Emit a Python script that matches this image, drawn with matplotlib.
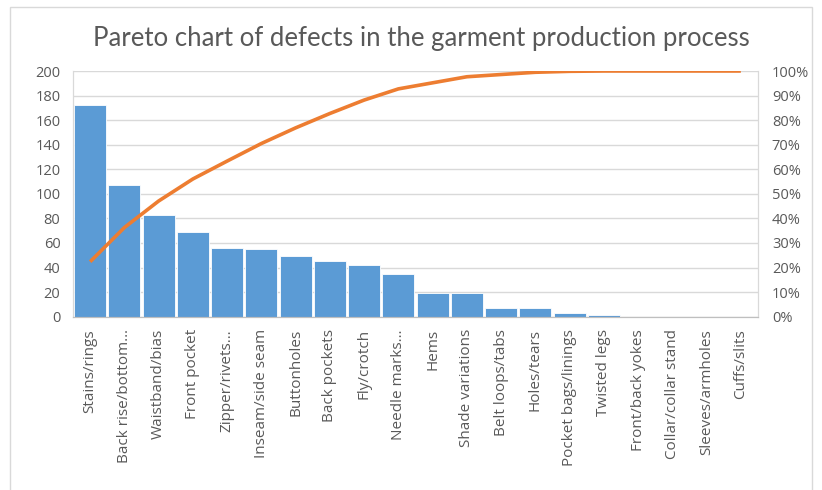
import numpy as np
import matplotlib.pyplot as plt
from matplotlib.ticker import PercentFormatter, MultipleLocator
from matplotlib.patches import Rectangle

# Defect categories, already sorted from most to least frequent
defeitos = ['Stains/rings', 'Back rise/bottom…', 'Waistband/bias', 'Front pocket',
            'Zipper/rivets…', 'Inseam/side seam', 'Buttonholes', 'Back pockets',
            'Fly/crotch', 'Needle marks…', 'Hems', 'Shade variations',
            'Belt loops/tabs', 'Holes/tears', 'Pocket bags/linings', 'Twisted legs',
            'Front/back yokes', 'Collar/collar stand', 'Sleeves/armholes', 'Cuffs/slits']
contagem = [172, 107, 83, 69, 56, 55, 49, 45, 42, 35, 19, 19, 7, 7, 3, 1, 0, 0, 0, 0]

titulo = 'Pareto chart of defects in the garment production process'

# Cumulative share of defects for the pareto line
contagem = np.array(contagem)
acumulado = np.cumsum(contagem) / contagem.sum()

azul = '#5B9BD5'
laranja = '#ED7D31'
cinza_texto = '#595959'
cinza_grade = '#D9D9D9'

plt.rcParams['font.family'] = ['Open Sans', 'DejaVu Sans']

fig = plt.figure(figsize=(8.22, 4.9), dpi=100)
ax = fig.add_axes([0.0888, 0.3537, 0.8333, 0.5014])
ax2 = ax.twinx()

x = np.arange(len(defeitos))
ax.bar(x, contagem, width=0.94, color=azul, edgecolor='white', linewidth=0.6, zorder=2)
ax2.plot(x, acumulado, color=laranja, linewidth=2.6, solid_capstyle='butt', zorder=3)

# Left axis: counts
ax.set_xlim(-0.5, len(defeitos) - 0.5)
ax.set_ylim(0, 200)
ax.yaxis.set_major_locator(MultipleLocator(20))
ax.grid(axis='y', color=cinza_grade, linewidth=1, zorder=0)
ax.set_axisbelow(True)
ax.set_xticks(x)
ax.set_xticklabels(defeitos, rotation=90, fontsize=11, color=cinza_texto)
ax.tick_params(axis='both', length=0, pad=9)
ax.tick_params(axis='y', labelsize=10.5, labelcolor=cinza_texto)

# Right axis: cumulative percentage
ax2.set_ylim(0, 1)
ax2.yaxis.set_major_locator(MultipleLocator(0.1))
ax2.yaxis.set_major_formatter(PercentFormatter(1.0, decimals=0))
ax2.tick_params(axis='y', length=0, pad=10, labelsize=10.5, labelcolor=cinza_texto)

for a in (ax, ax2):
    a.spines['top'].set_visible(False)
    a.spines['left'].set_color(cinza_grade)
    a.spines['right'].set_color(cinza_grade)
    a.spines['bottom'].set_color('#BFBFBF')

fig.text(0.513, 0.922, titulo, ha='center', va='center', fontsize=18.5,
         color=cinza_texto, fontfamily=['Lato', 'DejaVu Sans'])

# Chart area border
fig.patches.append(Rectangle((10 / 822, -0.01), 802 / 822, 1 - 7 / 490 + 0.01,
                             transform=fig.transFigure, fill=False,
                             edgecolor='#D9D9D9', linewidth=1))

plt.savefig('out.png', dpi=100)
